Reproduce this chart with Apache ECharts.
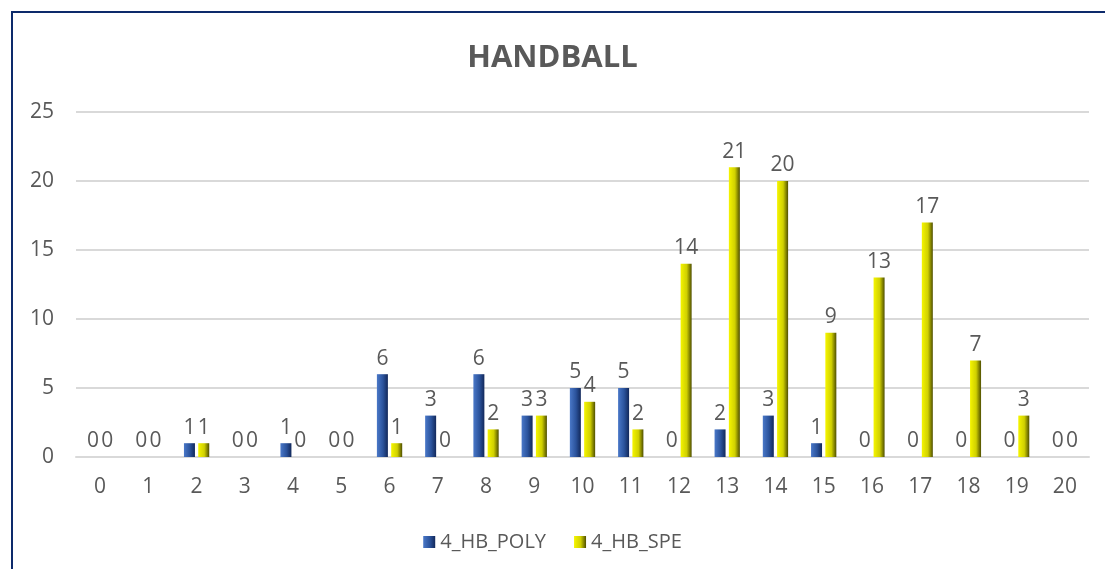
<!DOCTYPE html>
<html>
<head>
<meta charset="utf-8">
<script src="https://cdn.jsdelivr.net/npm/echarts@6/dist/echarts.min.js"></script>
<style>
  html, body { margin: 0; padding: 0; background: #fff; }
  #frame {
    position: absolute; left: 11px; top: 11px; width: 1110px; height: 580px;
    border-left: 2px solid #0d2a6b; border-top: 2px solid #0d2a6b;
  }
  #chart { position: absolute; left: 0; top: 0; width: 1105px; height: 569px; }
</style>
</head>
<body>
<div id="frame"></div>
<div id="chart"></div>
<script>
// categories 0..20
var categories = ['0', '1', '2', '3', '4', '5', '6', '7', '8', '9', '10',
  '11', '12', '13', '14', '15', '16', '17', '18', '19', '20']
// 4_HB_POLY
var polyValues = [0, 0, 1, 0, 1, 0, 6, 3, 6, 3, 5, 5, 0, 2, 3, 1, 0, 0, 0, 0, 0]
// 4_HB_SPE
var speValues = [0, 0, 1, 0, 0, 0, 1, 0, 2, 3, 4, 2, 14, 21, 20, 9, 13, 17, 7, 3, 0]

var font = '"Open Sans", "Noto Sans", sans-serif'

function bevel (light, mid, dark) {
  return new echarts.graphic.LinearGradient(0, 0, 1, 0, [
    { offset: 0, color: light },
    { offset: 0.55, color: mid },
    { offset: 1, color: dark }
  ])
}

var myChart = echarts.init(document.getElementById('chart'))
var option = {
  animation: false,
  title: {
    text: 'HANDBALL',
    left: 'center',
    top: 38,
    textStyle: { fontFamily: font, fontSize: 31, fontWeight: 'bold', color: '#595959' }
  },
  legend: {
    bottom: 12,
    left: 'center',
    itemWidth: 12,
    itemHeight: 12,
    itemGap: 28,
    icon: 'rect',
    textStyle: { fontFamily: font, fontSize: 20, color: '#595959' },
    data: ['4_HB_POLY', '4_HB_SPE']
  },
  grid: { left: 76, right: 16, top: 112, bottom: 112 },
  xAxis: {
    type: 'category',
    data: categories,
    axisLine: { lineStyle: { color: '#d9d9d9', width: 2 } },
    axisTick: { show: false },
    axisLabel: { fontFamily: font, fontSize: 21, color: '#595959', margin: 20 }
  },
  yAxis: {
    type: 'value',
    min: 0,
    max: 25,
    interval: 5,
    axisLine: { show: false },
    axisTick: { show: false },
    splitLine: { lineStyle: { color: '#d9d9d9', width: 2 } },
    axisLabel: { fontFamily: font, fontSize: 21, color: '#595959', margin: 22 }
  },
  series: [
    {
      name: '4_HB_POLY',
      type: 'bar',
      data: polyValues,
      barWidth: 11,
      barGap: '30%',
      itemStyle: { color: bevel('#4a78c8', '#2b539c', '#12285a') },
      label: { show: true, position: 'top', distance: 5, fontFamily: font, fontSize: 21, color: '#595959' }
    },
    {
      name: '4_HB_SPE',
      type: 'bar',
      data: speValues,
      barWidth: 11,
      itemStyle: { color: bevel('#f5f500', '#d0d000', '#4f4f00') },
      label: { show: true, position: 'top', distance: 5, fontFamily: font, fontSize: 21, color: '#595959' }
    }
  ]
}
myChart.setOption(option)
</script>
</body>
</html>
